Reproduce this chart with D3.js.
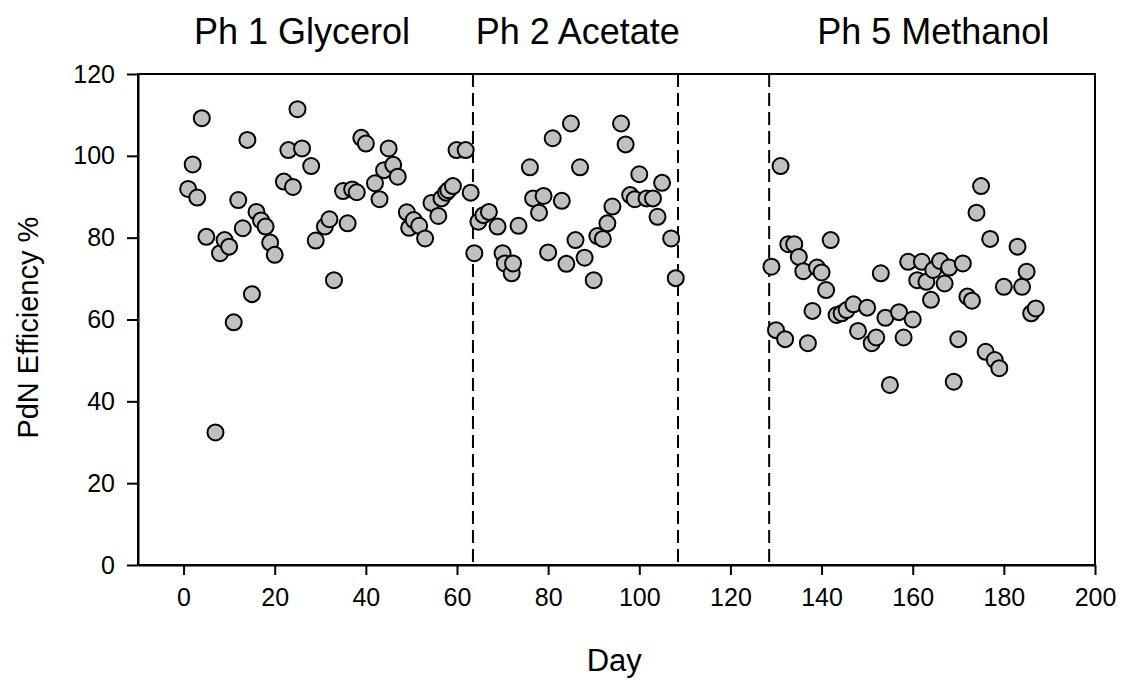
<!DOCTYPE html>
<html>
<head>
<meta charset="utf-8">
<script src="https://cdn.jsdelivr.net/npm/d3@7"></script>
<style>
  body { margin: 0; background: #fff; }
  text { font-family: "Liberation Sans", Arial, sans-serif; fill: #000; }
</style>
</head>
<body>
<svg id="chart" width="1123" height="683"></svg>
<script>
// days and PdN efficiency (%)
var days = [
  1, 2, 3, 4, 5, 7, 8, 9, 10, 11, 12, 13, 14, 15, 16, 17, 18, 19, 20,
  22, 23, 24, 25, 26, 28, 29, 31, 32, 33, 35, 36, 37, 38, 39, 40,
  42, 43, 44, 45, 46, 47, 49, 49.5, 50.5, 51.7, 53, 54.4, 55.9, 56.6, 57.6, 58.1, 59.1,
  59.9, 61.9, 63, 63.8, 64.7, 65.8, 67, 68.9, 70, 70.5, 72, 72.3, 73.5,
  76, 76.7, 78, 79, 80, 81, 83, 84, 85, 86, 87, 88, 90, 90.8, 92, 93, 94.1,
  96, 97, 98, 99, 100, 101.6, 103, 104, 105, 107, 108,
  129, 130, 131, 132, 132.7, 134, 135, 136, 137, 138, 139, 140, 141, 142,
  143.3, 144.4, 145.5, 147, 148, 150, 151, 152, 153, 154, 155, 157, 158,
  159, 160, 161, 162, 163, 164, 164.5, 166, 167, 168, 169, 170, 171, 172,
  173, 174, 175, 176, 177, 178, 179, 180, 183, 184, 185, 186, 187
]
var efficiency = [
  91.9, 97.9, 89.8, 109.2, 80.2, 32.4, 76.2, 79.4, 77.8, 59.3, 89.2, 82.3, 103.9, 66.2, 86.3, 84.2, 82.7, 78.8, 75.8,
  93.7, 101.4, 92.4, 111.4, 101.8, 97.5, 79.3, 82.7, 84.5, 69.6, 91.4, 83.5, 91.8, 91.1, 104.4, 103,
  93.3, 89.4, 96.5, 101.8, 97.8, 94.9, 86.2, 82.4, 84.3, 82.9, 79.8, 88.5, 85.3, 89.6, 91, 91.6, 92.6,
  101.4, 101.4, 91, 76.2, 83.9, 85.5, 86.3, 82.7, 76.2, 73.7, 71.3, 73.7, 82.9,
  97.2, 89.6, 86.1, 90.2, 76.4, 104.3, 89, 73.6, 107.9, 79.4, 97.2, 75.1, 69.6, 80.4, 79.7, 83.5, 87.6,
  107.9, 102.8, 90.4, 89.4, 95.5, 89.6, 89.6, 85.1, 93.4, 79.8, 70.1,
  72.9, 57.4, 97.5, 55.2, 78.4, 78.4, 75.3, 71.8, 54.2, 62.1, 72.7, 71.5, 67.2, 79.4,
  61.1, 61.5, 62.3, 63.7, 57.2, 62.9, 54.2, 55.6, 71.3, 60.4, 44, 61.8, 55.6,
  74.1, 60, 69.6, 74.1, 69.2, 64.8, 72.1, 74.3, 68.8, 72.7, 44.8, 55.2, 73.7, 65.6,
  64.6, 86.1, 92.6, 52.1, 79.7, 50.1, 48.1, 68, 77.8, 68, 71.7, 61.5, 62.7
]

// phase boundaries (dashed lines) and phase labels
var phaseBreaks = [63.5, 108.5, 128.5]
var phaseNames = ["Ph 1 Glycerol", "Ph 2 Acetate", "Ph 5 Methanol"]
var phaseLabelDays = [26, 86.5, 164.5]

var xTicks = d3.range(0, 201, 20)
var yTicks = d3.range(0, 121, 20)

var data = days.map((d, i) => ({ day: d, eff: efficiency[i] }))

var svg = d3.select("#chart")
var margin = { top: 74, left: 138, bottom: 118, right: 28 }
var width = +svg.attr("width")
var height = +svg.attr("height")

var x = d3.scaleLinear()
    .domain([-10, 200])
    .range([margin.left, width - margin.right])

var y = d3.scaleLinear()
    .domain([0, 120])
    .range([height - margin.bottom, margin.top])

// frame
svg.append("rect")
    .attr("x", x(-10))
    .attr("y", y(120))
    .attr("width", x(200) - x(-10))
    .attr("height", y(0) - y(120))
    .attr("fill", "none")
    .attr("stroke", "#000")
    .attr("stroke-width", 2)

var xAxis = svg.append("g")
    .attr("transform", `translate(0,${y(0)})`)
    .call(d3.axisBottom(x).tickValues(xTicks).tickSize(10).tickPadding(13).tickSizeOuter(0))
xAxis.select(".domain").attr("stroke-width", 2)
xAxis.selectAll(".tick line").attr("stroke-width", 2)
xAxis.selectAll("text").style("font-size", "25px")

var yAxis = svg.append("g")
    .attr("transform", `translate(${x(-10)},0)`)
    .call(d3.axisLeft(y).tickValues(yTicks).tickSize(11).tickPadding(12).tickSizeOuter(0))
yAxis.select(".domain").attr("stroke-width", 2)
yAxis.selectAll(".tick line").attr("stroke-width", 2)
yAxis.selectAll("text").style("font-size", "25px")

// phase separators
svg.selectAll(".phase-line")
    .data(phaseBreaks)
    .enter().append("line")
    .attr("class", "phase-line")
    .attr("x1", d => x(d))
    .attr("x2", d => x(d))
    .attr("y1", y(120))
    .attr("y2", y(0))
    .attr("stroke", "#000")
    .attr("stroke-width", 2)
    .attr("stroke-dasharray", "13,6")

// points
svg.selectAll(".dot")
    .data(data)
    .enter().append("circle")
    .attr("class", "dot")
    .attr("cx", d => x(d.day))
    .attr("cy", d => y(d.eff))
    .attr("r", 8)
    .attr("fill", "#c0c0c0")
    .attr("stroke", "#000")
    .attr("stroke-width", 2)

// phase titles
svg.selectAll(".phase-title")
    .data(phaseNames)
    .enter().append("text")
    .attr("class", "phase-title")
    .attr("x", (d, i) => x(phaseLabelDays[i]))
    .attr("y", 44)
    .attr("text-anchor", "middle")
    .style("font-size", "36px")
    .text(d => d)

// axis titles
svg.append("text")
    .attr("x", x(94.5))
    .attr("y", 671)
    .attr("text-anchor", "middle")
    .style("font-size", "31px")
    .text("Day")

svg.append("text")
    .attr("transform", `translate(38,${y(58)}) rotate(-90)`)
    .attr("text-anchor", "middle")
    .style("font-size", "29px")
    .text("PdN Efficiency %")
</script>
</body>
</html>
